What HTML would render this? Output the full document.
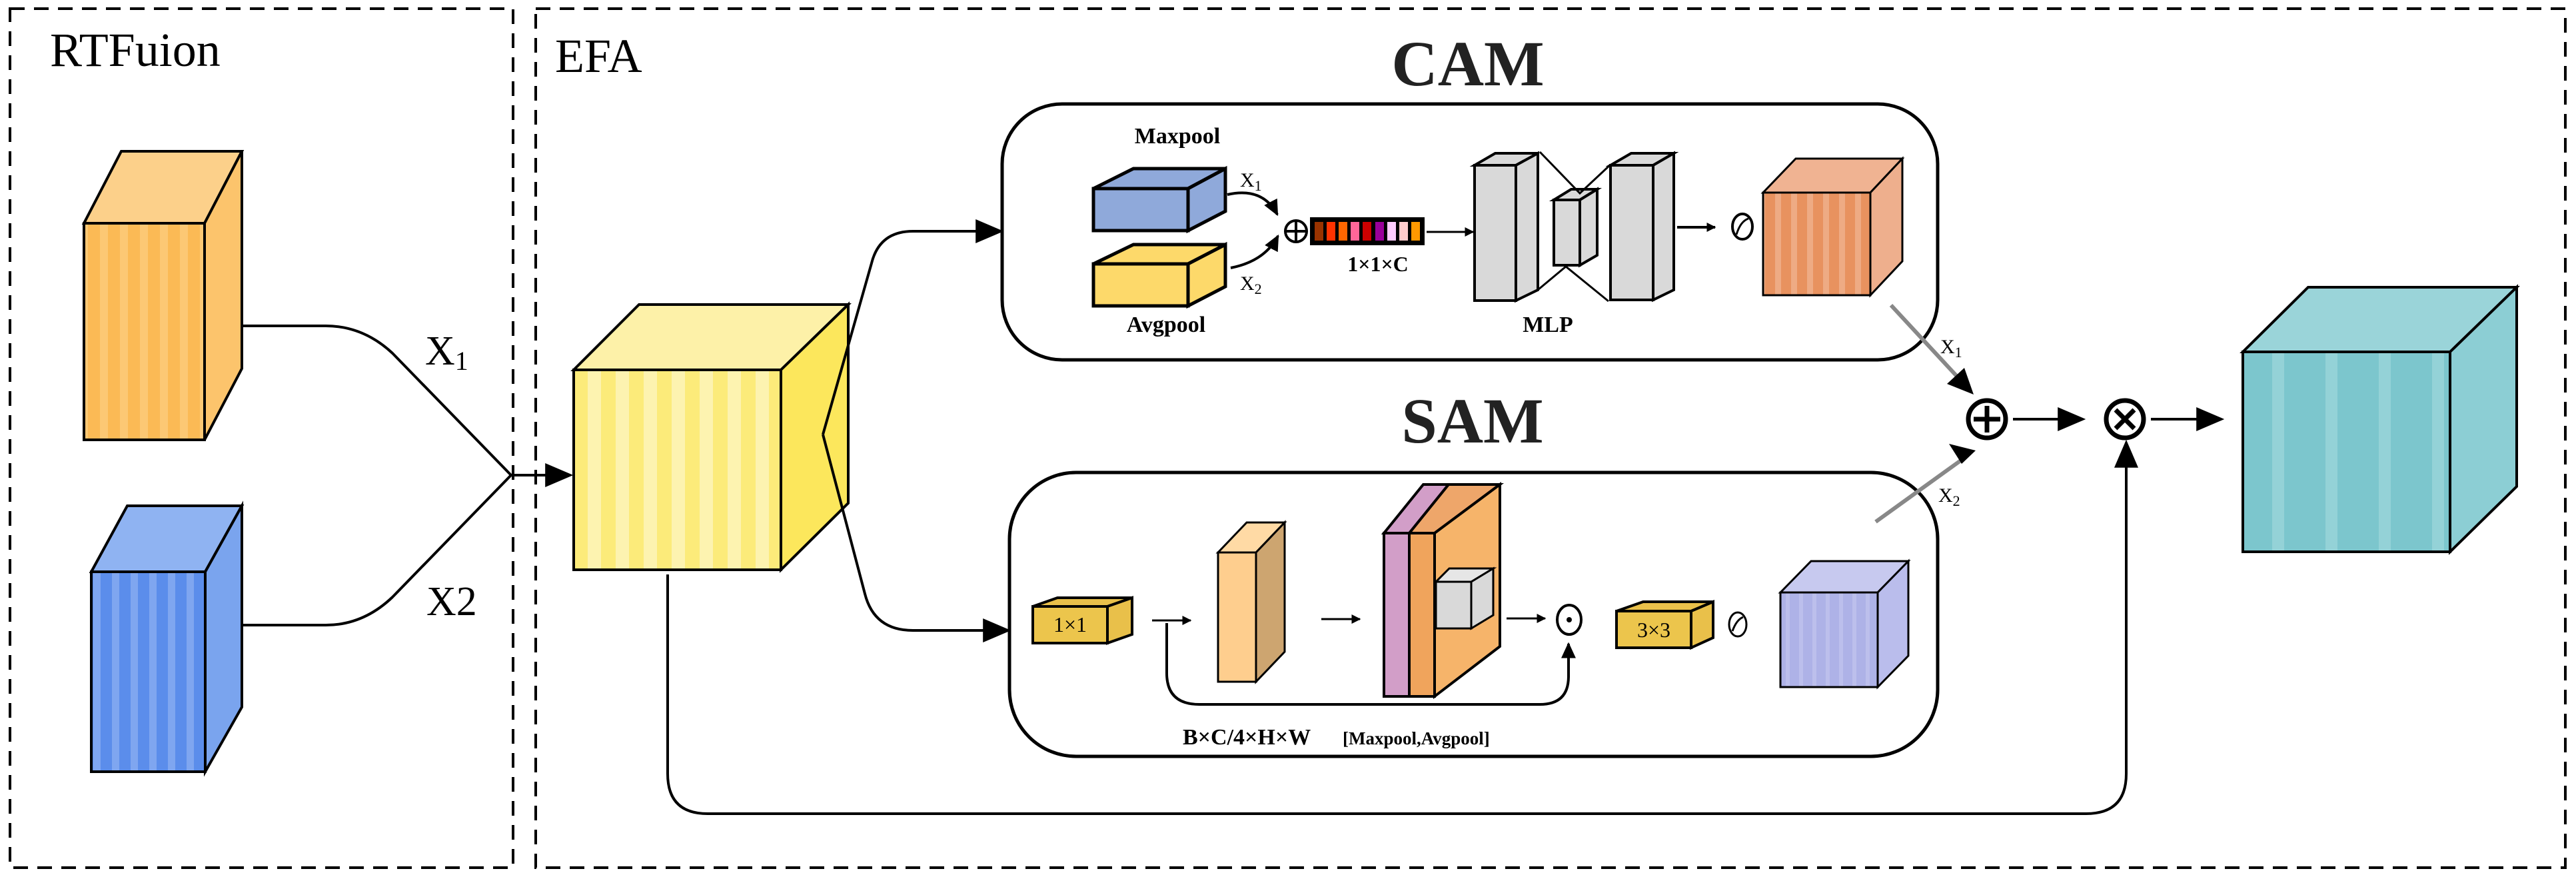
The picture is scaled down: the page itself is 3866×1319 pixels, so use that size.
<!DOCTYPE html>
<html><head><meta charset="utf-8"><style>html,body{margin:0;padding:0;background:#fff}svg{display:block}</style></head>
<body>
<svg width="3866" height="1319" viewBox="0 0 3866 1319" xmlns="http://www.w3.org/2000/svg" font-family="'Liberation Serif', serif">
<defs>
<marker id="ah" markerWidth="42" markerHeight="36" refX="9" refY="5" orient="auto" markerUnits="userSpaceOnUse" viewBox="0 0 10 10" preserveAspectRatio="none"><path d="M0,0 L10,5 L0,10 z" fill="#000"/></marker>
<marker id="am" markerWidth="24" markerHeight="22" refX="9" refY="5" orient="auto" markerUnits="userSpaceOnUse" viewBox="0 0 10 10" preserveAspectRatio="none"><path d="M0,0 L10,5 L0,10 z" fill="#000"/></marker>
<marker id="as" markerWidth="14" markerHeight="14" refX="9" refY="5" orient="auto" markerUnits="userSpaceOnUse" viewBox="0 0 10 10" preserveAspectRatio="none"><path d="M0,0 L10,5 L0,10 z" fill="#000"/></marker>
<pattern id="pOr" width="30" height="10" patternUnits="userSpaceOnUse"><rect width="30" height="10" fill="#FBBA55"/><rect width="12" height="10" fill="#FCC874"/></pattern>
<pattern id="pBl" width="28" height="10" patternUnits="userSpaceOnUse"><rect width="28" height="10" fill="#5B8DEB"/><rect width="11" height="10" fill="#7FA6F0"/></pattern>
<pattern id="pYe" width="42" height="10" patternUnits="userSpaceOnUse"><rect width="42" height="10" fill="#FCEB7A"/><rect width="20" height="10" fill="#FDF3B0"/></pattern>
<pattern id="pTe" width="80" height="10" patternUnits="userSpaceOnUse"><rect width="80" height="10" fill="#7CC6CD"/><rect x="50" width="18" height="10" fill="#94D2D7"/></pattern>
<pattern id="pCo" width="24" height="10" patternUnits="userSpaceOnUse"><rect width="24" height="10" fill="#E8925F"/><rect width="9" height="10" fill="#EEAB84"/></pattern>
<pattern id="pPu" width="20" height="10" patternUnits="userSpaceOnUse"><rect width="20" height="10" fill="#AEB2E7"/><rect width="6" height="10" fill="#BCBFEC"/></pattern>
</defs>

<rect x="15" y="13" width="755" height="1289" fill="none" stroke="#000" stroke-width="4" stroke-dasharray="22,14"/>
<rect x="804" y="13" width="3046" height="1289" fill="none" stroke="#000" stroke-width="4" stroke-dasharray="22,14"/>
<text x="75" y="99" font-size="72">RTFuion</text>
<text x="833" y="108" font-size="72">EFA</text>

<g stroke="#000" stroke-width="4" stroke-linejoin="miter">
<polygon points="126,335 182,227 363,227 307,335" fill="#FCD08A"/>
<polygon points="307,335 363,227 363,553 307,660" fill="#FCC46C"/>
<rect x="126" y="335" width="181" height="325" fill="url(#pOr)"/>
<polygon points="137,858 191,759 363,759 308,858" fill="#8FB3F2"/>
<polygon points="308,858 363,759 363,1061 308,1158" fill="#7AA4EE"/>
<rect x="137" y="858" width="171" height="300" fill="url(#pBl)"/>
<polygon points="861,555 959,457 1273,457 1172,555" fill="#FDF1A8"/>
<polygon points="1172,555 1273,457 1273,755 1172,855" fill="#FCE75C"/>
<rect x="861" y="555" width="311" height="300" fill="url(#pYe)"/>
<polygon points="3366,528 3464,431 3777,431 3677,528" fill="#9AD4D9"/>
<polygon points="3677,528 3777,431 3777,730 3677,828" fill="#8CCED4"/>
<rect x="3366" y="528" width="311" height="300" fill="url(#pTe)"/>
</g>

<g fill="none" stroke="#000" stroke-width="4">
<path d="M363,489 H489 Q545,489 589,530 L767,713"/>
<path d="M363,938 H489 Q545,938 589,896 L767,713"/>
<path d="M767,713 H856" marker-end="url(#ah)"/>
<path d="M1235,652 L1308,395 Q1320,347 1370,347 H1502" marker-end="url(#ah)"/>
<path d="M1235,652 L1298,891 Q1312,946 1370,946 H1513" marker-end="url(#ah)"/>
<path d="M1002,862 V1161 Q1002,1221 1062,1221 H3131 Q3191,1221 3191,1161 V664" marker-end="url(#ah)"/>
<path d="M3021,629 H3126" marker-end="url(#ah)"/>
<path d="M3228,629 H3334" marker-end="url(#ah)"/>
</g>
<text x="638" y="547" font-size="62">X<tspan font-size="40" dy="8">1</tspan></text>
<text x="640" y="923" font-size="62">X2</text>

<text x="2203" y="128" font-size="96" font-weight="bold" text-anchor="middle" fill="#222">CAM</text>
<rect x="1504" y="156" width="1404" height="384" rx="90" fill="none" stroke="#000" stroke-width="5"/>
<text x="1767" y="215" font-size="34" font-weight="bold" text-anchor="middle">Maxpool</text>
<text x="1750" y="498" font-size="34" font-weight="bold" text-anchor="middle">Avgpool</text>
<g stroke="#000" stroke-width="5">
<polygon points="1641,283 1701,253 1839,253 1783,283" fill="#8FA9DA"/>
<polygon points="1783,283 1839,253 1839,317 1783,346" fill="#8FA9DA"/>
<rect x="1641" y="283" width="142" height="63" fill="#8FA9DA"/>
<polygon points="1641,396 1701,367 1839,367 1783,396" fill="#FDD96A"/>
<polygon points="1783,396 1839,367 1839,430 1783,459" fill="#FDD96A"/>
<rect x="1641" y="396" width="142" height="63" fill="#FDD96A"/>
</g>
<text x="1861" y="280" font-size="30">X<tspan font-size="22" dy="6">1</tspan></text>
<text x="1861" y="435" font-size="30">X<tspan font-size="22" dy="6">2</tspan></text>
<g fill="none" stroke="#000" stroke-width="4">
<path d="M1842,292 Q1895,280 1917,322" marker-end="url(#am)"/>
<path d="M1847,402 Q1898,392 1918,354" marker-end="url(#am)"/>
</g>
<circle cx="1945" cy="347" r="16" fill="none" stroke="#000" stroke-width="4"/>
<path d="M1931,347 H1959 M1945,333 V361" stroke="#000" stroke-width="4"/>
<rect x="1966" y="326" width="172" height="42" fill="#000"/>
<g>
<rect x="1973" y="333" width="13" height="28" fill="#993300"/>
<rect x="1991" y="333" width="13" height="28" fill="#FF3300"/>
<rect x="2009" y="333" width="13" height="28" fill="#FF6600"/>
<rect x="2027" y="333" width="13" height="28" fill="#FF6699"/>
<rect x="2045" y="333" width="13" height="28" fill="#CC0000"/>
<rect x="2064" y="333" width="13" height="28" fill="#990099"/>
<rect x="2082" y="333" width="13" height="28" fill="#FFCCFF"/>
<rect x="2100" y="333" width="13" height="28" fill="#FFCCCC"/>
<rect x="2118" y="333" width="13" height="28" fill="#FF9900"/>
</g>
<text x="2068" y="407" font-size="32" font-weight="bold" text-anchor="middle">1×1×C</text>
<path d="M2141,348 H2211" stroke="#000" stroke-width="3" marker-end="url(#as)" fill="none"/>
<g stroke="#000" stroke-width="4" fill="#D9D9D9">
<polygon points="2213,248 2244,230 2308,230 2275,248"/>
<polygon points="2275,248 2308,230 2308,435 2275,451"/>
<rect x="2213" y="248" width="62" height="203"/>
<polygon points="2332,300 2358,284 2397,284 2371,300"/>
<polygon points="2371,300 2397,284 2397,383 2371,398"/>
<rect x="2332" y="300" width="39" height="98"/>
<polygon points="2417,248 2448,230 2512,230 2481,248"/>
<polygon points="2481,248 2512,230 2512,435 2481,450"/>
<rect x="2417" y="248" width="64" height="202"/>
</g>
<g stroke="#000" stroke-width="3" fill="none">
<path d="M2311,228 L2371,290 L2417,247"/>
<path d="M2308,435 L2350,400 L2414,452"/>
</g>
<text x="2323" y="498" font-size="34" font-weight="bold" text-anchor="middle">MLP</text>
<path d="M2517,341 H2574" stroke="#000" stroke-width="4" marker-end="url(#as)" fill="none"/>
<ellipse cx="2615" cy="340" rx="15" ry="19" fill="none" stroke="#000" stroke-width="4"/>
<path d="M2606,352 Q2612,332 2624,328" stroke="#000" stroke-width="3" fill="none"/>
<g stroke="#000" stroke-width="3">
<polygon points="2646,289 2695,238 2855,238 2807,289" fill="#F0B392"/>
<polygon points="2807,289 2855,238 2855,392 2807,443" fill="#EEAF8D"/>
<rect x="2646" y="289" width="161" height="154" fill="url(#pCo)"/>
</g>

<text x="2210" y="664" font-size="96" font-weight="bold" text-anchor="middle" fill="#222">SAM</text>
<rect x="1515" y="709" width="1393" height="426" rx="100" fill="none" stroke="#000" stroke-width="5"/>
<g stroke="#000" stroke-width="4">
<polygon points="1550,910 1587,897 1699,897 1662,910" fill="#E9C04A"/>
<polygon points="1662,910 1699,897 1699,952 1662,965" fill="#E9C04A"/>
<rect x="1550" y="910" width="112" height="55" fill="#ECC54C"/>
<polygon points="2426,917 2466,903 2571,903 2538,917" fill="#E9C04A"/>
<polygon points="2538,917 2571,903 2571,957 2538,972" fill="#E9C04A"/>
<rect x="2426" y="917" width="112" height="55" fill="#ECC54C"/>
</g>
<text x="1606" y="948" font-size="32" text-anchor="middle">1×1</text>
<text x="2482" y="956" font-size="32" text-anchor="middle">3×3</text>
<g fill="none" stroke="#000" stroke-width="3">
<path d="M1729,931 H1787" marker-end="url(#as)"/>
<path d="M1751,935 V1010 Q1751,1057 1800,1057 H2311 Q2354,1057 2354,1015 V966" stroke-width="4" marker-end="url(#am)"/>
<path d="M1983,929 H2041" marker-end="url(#as)"/>
<path d="M2261,928 H2319" marker-end="url(#as)"/>
</g>
<g stroke="#000" stroke-width="3">
<polygon points="1828,829 1871,784 1928,784 1885,829" fill="#FFDAA5"/>
<polygon points="1885,829 1928,784 1928,978 1885,1023" fill="#CDA570"/>
<rect x="1828" y="829" width="57" height="194" fill="#FECE8E"/>
</g>
<g stroke="#000" stroke-width="4">
<polygon points="2077,800 2136,727 2174,727 2115,800" fill="#D29EC8"/>
<polygon points="2115,800 2174,727 2251,727 2153,800" fill="#EEA66A"/>
<polygon points="2153,800 2251,727 2251,970 2153,1045" fill="#F6B46A"/>
<rect x="2077" y="800" width="38" height="245" fill="#D29EC8"/>
<rect x="2115" y="800" width="38" height="245" fill="#F0A45C"/>
<polygon points="2155,873 2175,853 2241,853 2208,873" fill="#E6E6E6" stroke-width="3"/>
<polygon points="2208,873 2241,853 2241,923 2208,943" fill="#D9D9D9" stroke-width="3"/>
<rect x="2155" y="873" width="53" height="70" fill="#D9D9D9" stroke-width="3"/>
</g>
<ellipse cx="2355" cy="930" rx="18" ry="22" fill="none" stroke="#000" stroke-width="4"/>
<circle cx="2355" cy="930" r="4" fill="#000"/>
<ellipse cx="2608" cy="937" rx="13" ry="18" fill="none" stroke="#000" stroke-width="3"/>
<path d="M2600,947 Q2606,930 2616,926" stroke="#000" stroke-width="3" fill="none"/>
<g stroke="#000" stroke-width="3">
<polygon points="2672,889 2718,842 2864,842 2818,889" fill="#C7C9EF"/>
<polygon points="2818,889 2864,842 2864,984 2818,1031" fill="#BABDEC"/>
<rect x="2672" y="889" width="146" height="142" fill="url(#pPu)"/>
</g>
<text x="1775" y="1117" font-size="34" font-weight="bold">B×C/4×H×W</text>
<text x="2015" y="1117" font-size="27" font-weight="bold">[Maxpool,Avgpool]</text>

<g stroke="#888" stroke-width="6" fill="none">
<path d="M2838,458 L2940,568"/>
<path d="M2815,783 L2944,690"/>
</g>
<polygon points="2962,592 2922,576 2948,552" fill="#000"/>
<polygon points="2965,676 2925,666 2944,696" fill="#000"/>
<text x="2912" y="530" font-size="30">X<tspan font-size="22" dy="6">1</tspan></text>
<text x="2909" y="753" font-size="30">X<tspan font-size="22" dy="6">2</tspan></text>

<circle cx="2982" cy="629" r="28" fill="none" stroke="#000" stroke-width="7"/>
<path d="M2962,629 H3002 M2982,609 V649" stroke="#000" stroke-width="7"/>
<circle cx="3189" cy="629" r="28" fill="none" stroke="#000" stroke-width="7"/>
<path d="M3175,615 L3203,643 M3203,615 L3175,643" stroke="#000" stroke-width="7"/>
</svg>
</body></html>
